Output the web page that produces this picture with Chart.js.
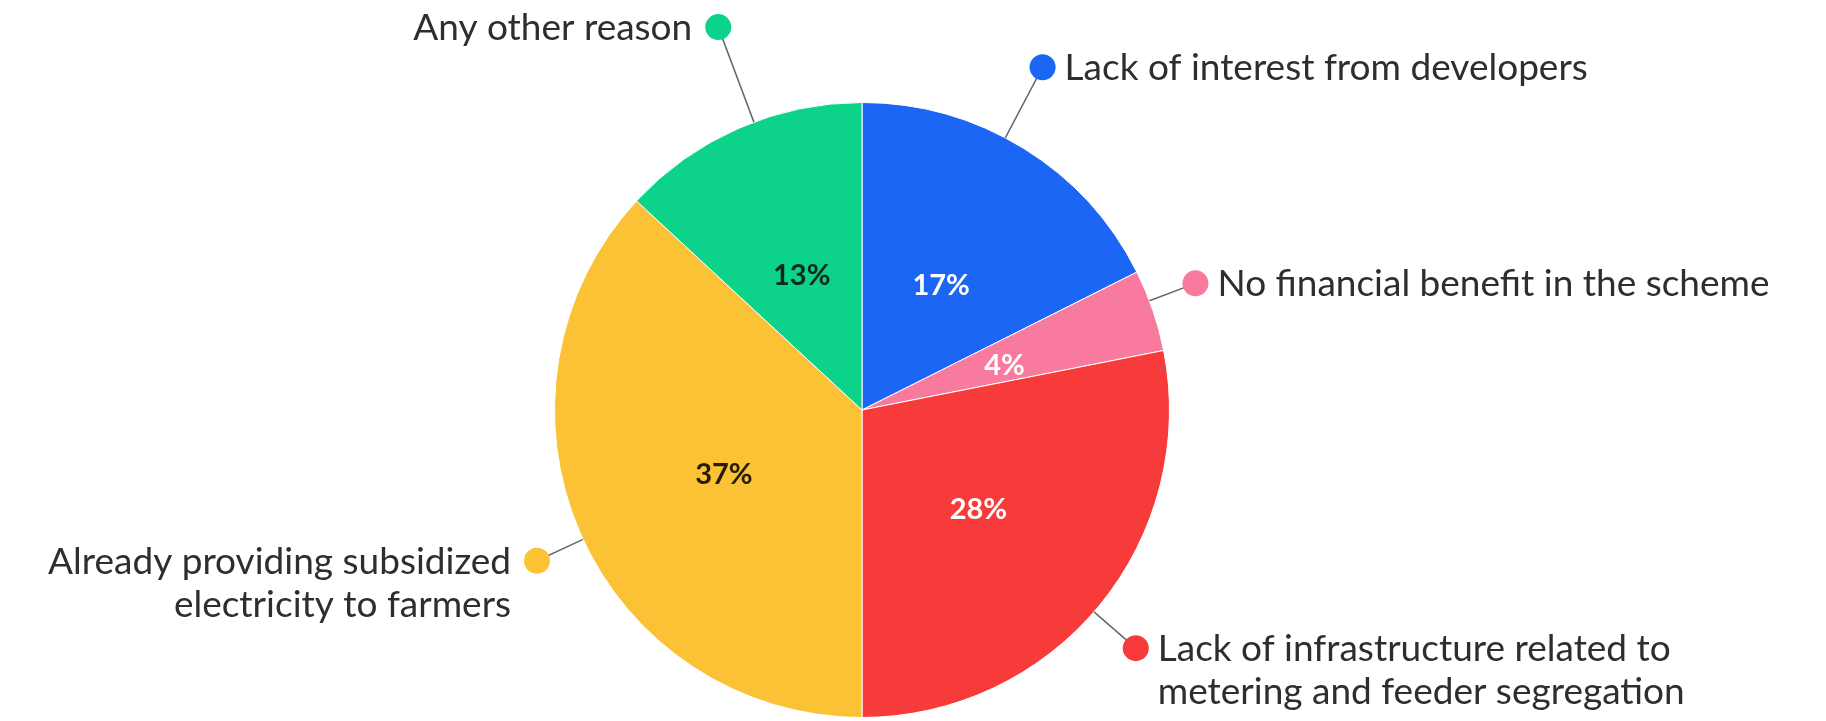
<!DOCTYPE html>
<html>
<head>
<meta charset="utf-8">
<script src="https://cdn.jsdelivr.net/npm/chart.js@4.4.1/dist/chart.umd.min.js"></script>
<style>
  html, body { margin: 0; padding: 0; background: #fff; }
  #wrap { width: 1826px; height: 721px; }
</style>
</head>
<body>
<div id="wrap"><canvas id="chart" width="1826" height="721"></canvas></div>
<script>
// reasons, clockwise from 12 o'clock
const categories = [
    ["Lack of interest from developers"],
    ["No financial benefit in the scheme"],
    ["Lack of infrastructure related to", "metering and feeder segregation"],
    ["Already providing subsidized", "electricity to farmers"],
    ["Any other reason"]
];
// slice sizes; the printed labels are rounded
const shares = [17.6, 4.3, 28.1, 36.9, 13.1];
const shareLabels = ["17%", "4%", "28%", "37%", "13%"];

const sliceColors = ["#1b66f5", "#f87a9f", "#f73b3b", "#fbc235", "#0dd38a"];
const pctColors = ["#ffffff", "#ffffff", "#ffffff", "#2a1c08", "#0f2a1c"];

// callout dot placement: distance (x radius) and angle nudge (deg)
const reach = [1.26, 1.16, 1.18, 1.165, 1.33];
const nudge = [-3.9, -1.9, 1.6, -1.3, 3];

const calloutPlugin = {
    id: "callouts",
    afterDatasetsDraw(chart) {
        const ctx = chart.ctx;
        const meta = chart.getDatasetMeta(0);
        ctx.save();
        meta.data.forEach((arc, i) => {
            const mid = (arc.startAngle + arc.endAngle) / 2;
            const r = arc.outerRadius;

            // percentage inside the slice
            ctx.font = "bold 29px Lato";
            ctx.fillStyle = pctColors[i];
            ctx.textAlign = "center";
            ctx.textBaseline = "middle";
            ctx.fillText(shareLabels[i], arc.x + Math.cos(mid) * r * 0.49, arc.y + Math.sin(mid) * r * 0.49 + 4);

            // leader line + dot
            const a = mid + nudge[i] * Math.PI / 180;
            const cos = Math.cos(a), sin = Math.sin(a);
            const ex = arc.x + cos * r, ey = arc.y + sin * r;
            const dx = arc.x + cos * r * reach[i], dy = arc.y + sin * r * reach[i];
            ctx.strokeStyle = "#5d6b6e";
            ctx.lineWidth = 1.5;
            ctx.beginPath();
            ctx.moveTo(ex, ey);
            ctx.lineTo(dx, dy);
            ctx.stroke();

            ctx.fillStyle = sliceColors[i];
            ctx.beginPath();
            ctx.arc(dx, dy, 13, 0, Math.PI * 2);
            ctx.fill();

            // category text
            const right = cos >= 0;
            ctx.font = "37px Lato";
            ctx.fillStyle = "#2e2e2e";
            ctx.textAlign = right ? "left" : "right";
            const tx = right ? dx + 22 : dx - 26;
            categories[i].forEach((line, k) => {
                ctx.fillText(line, tx, dy + 1 + k * 43);
            });
        });
        ctx.restore();
    }
};

const chart = new Chart(document.getElementById("chart"), {
    type: "pie",
    data: {
        labels: categories.map(c => c.join(" ")),
        datasets: [{
            data: shares,
            backgroundColor: sliceColors,
            borderColor: "#ffffff",
            borderWidth: 1
        }]
    },
    options: {
        responsive: false,
        animation: false,
        layout: { padding: { top: 102, bottom: 3, left: 0, right: 102 } },
        plugins: {
            legend: { display: false },
            tooltip: { enabled: false }
        }
    },
    plugins: [calloutPlugin]
});
</script>
</body>
</html>
